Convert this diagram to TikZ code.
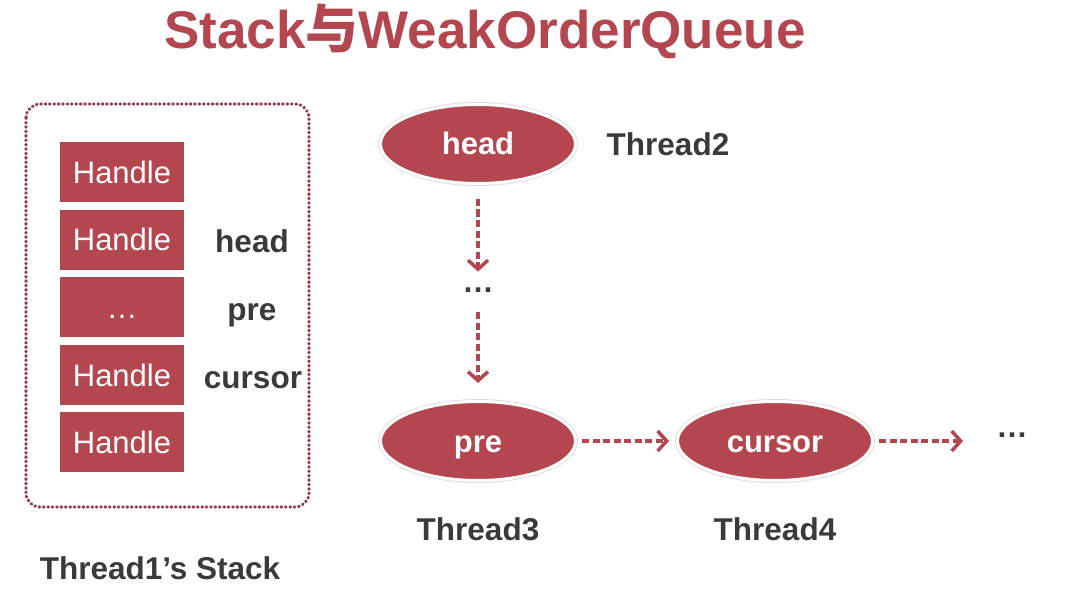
\documentclass[tikz,border=0pt]{standalone}
\usepackage{fontspec}
\setmainfont{Liberation Sans}
\newfontfamily\cjk{Noto Sans CJK SC}
\usepackage{tikz}
\usetikzlibrary{arrows.meta,positioning,shapes.geometric}
\usepackage{xcolor}
\definecolor{wred}{HTML}{B3464F}
\definecolor{wdot}{HTML}{9A3A48}
\definecolor{wgray}{HTML}{3A3A3A}

\tikzset{
  handlebox/.style={fill=wred,minimum width=124pt,minimum height=60pt,inner sep=0pt,
    text=white,font=\fontsize{31}{34}\selectfont,text height=22pt,text depth=0pt},
  qnode/.style={ellipse,preaction={draw=black!12,line width=5pt},fill=wred,draw=white,line width=3pt,
    minimum width=195pt,minimum height=79pt,inner sep=0pt,
    text=white,font=\fontsize{31}{34}\selectfont\bfseries,text height=22pt,text depth=0pt},
  lbl/.style={text=wgray,font=\fontsize{31.5}{34}\selectfont\bfseries,inner sep=0pt,
    text height=22.5pt,text depth=0pt},
  link/.style={wred,line width=3.5pt,dash pattern=on 7pt off 3.5pt,
    -{Straight Barb[length=9pt,width=20pt,line width=3.5pt]}}
}

\begin{document}
\begin{tikzpicture}[x=1pt,y=-1pt]
\useasboundingbox (0,0) rectangle (1077,615);
\node[text=wred,font=\fontsize{53}{57}\selectfont\bfseries,inner sep=0pt] (title) at (485,31)
  {Stack{\cjk 与}WeakOrderQueue};
% Thread1's stack
\draw[wdot,line width=3.2pt,line cap=round,dash pattern=on 0.6pt off 3.8pt,rounded corners=14pt]
  (26,104) rectangle (309,507);
\node[handlebox] (h1) at (122,172) {Handle};
\node[handlebox] (h2) at (122,240) {Handle};
\node[handlebox] (h3) at (122,307) {…};
\node[handlebox] (h4) at (122,375) {Handle};
\node[handlebox] (h5) at (122,442) {Handle};
\node[lbl] (shead) at (252,241) {head};
\node[lbl] (spre) at (252,309) {pre};
\node[lbl] (scursor) at (253,377) {cursor};
\node[lbl] (stack) at (160,568) {Thread1’s Stack};
% queue
\node[qnode] (head) at (478,144) {head};
\node[lbl] (t2) at (668,144) {Thread2};
\node[lbl] (dots1) at (478,281) {…};
\node[qnode] (pre) at (478,441) {pre};
\node[qnode] (cursor) at (775,441) {cursor};
\node[lbl] (dots2) at (1012,426) {…};
\node[lbl] (t3) at (478,529) {Thread3};
\node[lbl] (t4) at (775,529) {Thread4};
\draw[link,shorten <=14pt,shorten >=-2pt] (head.south) -- (dots1.north);
\draw[link,shorten <=20pt,shorten >=17pt] (dots1.south) -- (pre.north);
\draw[link,shorten <=5pt,shorten >=7pt] (pre.east) -- (cursor.west);
\draw[link,shorten <=5pt,shorten >=33pt] (cursor.east) -- (dots2.west |- cursor.east);
\end{tikzpicture}
\end{document}
